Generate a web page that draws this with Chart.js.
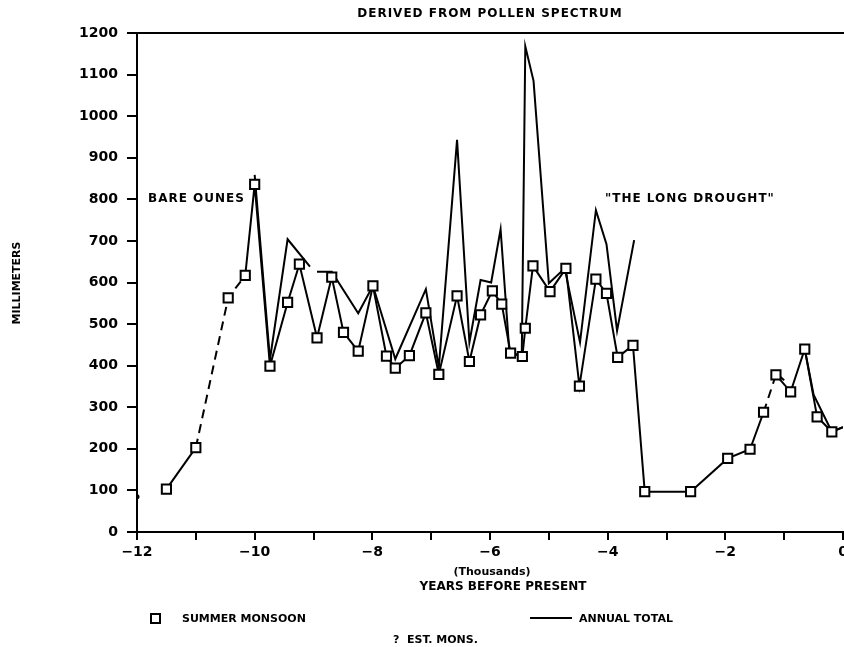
<!DOCTYPE html>
<html>
<head>
<meta charset="utf-8">
<title>Derived from pollen spectrum</title>
<script src="https://cdn.jsdelivr.net/npm/chart.js@4/dist/chart.umd.min.js"></script>
<style>
  html, body { margin: 0; padding: 0; background: #fff; overflow: hidden; }
  #wrap { width: 844px; height: 647px; position: relative; }
  canvas { display: block; }
</style>
</head>
<body>
<div id="wrap"><canvas id="chart"></canvas></div>
<script>
// Years are thousands of years before present, values in millimeters

// Summer monsoon reconstruction
const monsoonYears = [-11.5, -11.0, -10.45, -10.16, -10.0, -9.74, -9.44, -9.24, -8.94, -8.69,
  -8.49, -8.24, -7.99, -7.76, -7.61, -7.37, -7.09, -6.87, -6.56, -6.35,
  -6.16, -5.96, -5.80, -5.65, -5.45, -5.40, -5.27, -4.98, -4.71, -4.48,
  -4.20, -4.02, -3.83, -3.57, -3.37, -2.59, -1.96, -1.58, -1.35, -1.14,
  -0.89, -0.65, -0.44, -0.19, 0];
const monsoonValues = [103, 203, 563, 617, 836, 399, 552, 644, 467, 613,
  480, 435, 592, 423, 394, 424, 527, 379, 568, 410,
  522, 580, 548, 430, 422, 490, 640, 578, 634, 351,
  608, 574, 420, 449, 97, 97, 177, 199, 288, 378,
  337, 440, 277, 241, 252];
// segments ending at these points are estimated (dashed)
const monsoonEstimated = [false, false, true, true, false, false, false, false, false, false,
  false, false, false, false, false, false, false, false, false, false,
  false, false, false, false, false, false, false, false, false, false,
  false, false, false, false, false, false, false, false, false, true,
  false, false, false, false, false];

// Annual total (null marks a break in the record)
const annualYears = [-10.0, -9.74, -9.44, -9.06, -9.0, -8.94, -8.69, -8.24, -7.99, -7.61,
  -7.09, -6.87, -6.56, -6.35, -6.16, -5.98, -5.82, -5.67, -5.46, -5.40,
  -5.26, -5.00, -4.73, -4.47, -4.20, -4.02, -3.84, -3.55, -2.0, -1.16,
  -1.0, -0.9, -0.65, -0.50, -0.19, 0];
const annualValues = [859, 415, 704, 638, null, 626, 626, 526, 592, 416,
  584, 396, 943, 456, 606, 600, 728, 432, 424, 1168,
  1085, 598, 634, 456, 774, 692, 484, 702, null, 385,
  365, null, 440, 330, 241, 252];

// lone reading at the start of the record
const earlyYears = [-12];
const earlyValues = [85];

const xRange = [-12, 0];
const yRange = [0, 1200];
const yStep = 100;

const FONT = 'DejaVu Sans';

function toPoints(xs, ys) {
  return xs.map((x, i) => ({ x: x, y: ys[i] }));
}

// Titles, notes and the legend drawn straight on the canvas
const textPlugin = {
  id: 'textPlugin',
  afterDraw(chart) {
    const ctx = chart.ctx;
    const area = chart.chartArea;
    ctx.save();
    ctx.fillStyle = '#000';
    ctx.strokeStyle = '#000';

    // top frame line
    ctx.lineWidth = 2;
    ctx.beginPath();
    ctx.moveTo(area.left, area.top);
    ctx.lineTo(area.right + 1, area.top);
    ctx.stroke();

    ctx.textBaseline = 'middle';
    ctx.textAlign = 'center';
    ctx.font = 'bold 12px ' + FONT;
    ctx.letterSpacing = '1px';
    ctx.fillText('DERIVED FROM POLLEN SPECTRUM', 490, 14);

    // axis titles
    ctx.letterSpacing = '0px';
    ctx.font = 'bold 11px ' + FONT;
    ctx.fillText('(Thousands)', 492, 572);
    ctx.font = 'bold 12px ' + FONT;
    ctx.fillText('YEARS BEFORE PRESENT', 503, 587);

    ctx.save();
    ctx.translate(17, 283);
    ctx.rotate(-Math.PI / 2);
    ctx.font = 'bold 11px ' + FONT;
    ctx.fillText('MILLIMETERS', 0, 0);
    ctx.restore();

    // notes inside the plot
    ctx.textAlign = 'left';
    ctx.font = 'bold 12px ' + FONT;
    ctx.letterSpacing = '1px';
    ctx.fillText('BARE OUNES', 148, 199);
    ctx.fillText('"THE LONG DROUGHT"', 605, 199);

    // legend
    ctx.letterSpacing = '0px';
    ctx.font = 'bold 11px ' + FONT;
    ctx.lineWidth = 2;
    ctx.fillStyle = '#fff';
    ctx.fillRect(151, 614, 9, 9);
    ctx.strokeRect(151, 614, 9, 9);
    ctx.fillStyle = '#000';
    ctx.fillText('SUMMER MONSOON', 182, 619);

    ctx.beginPath();
    ctx.moveTo(530, 618);
    ctx.lineTo(572, 618);
    ctx.stroke();
    ctx.fillText('ANNUAL TOTAL', 579, 619);

    ctx.fillText('?  EST. MONS.', 393, 640);
    ctx.restore();
  }
};

const lastMonsoon = monsoonYears.length - 1;

const ctx = document.getElementById('chart').getContext('2d');
new Chart(ctx, {
  type: 'line',
  data: {
    datasets: [
      {
        label: 'SUMMER MONSOON',
        data: toPoints(monsoonYears, monsoonValues),
        borderColor: '#000',
        borderWidth: 2,
        pointStyle: 'rect',
        // the record runs on past the right edge, so no marker there
        pointRadius: c => (c.dataIndex === lastMonsoon ? 0 : 6.5),
        pointBorderWidth: 2,
        pointBackgroundColor: '#fff',
        pointBorderColor: '#000',
        segment: {
          borderDash: c => monsoonEstimated[c.p1DataIndex] ? [9, 6] : undefined
        },
        order: 1
      },
      {
        label: 'ANNUAL TOTAL',
        data: toPoints(annualYears, annualValues),
        borderColor: '#000',
        borderWidth: 2,
        pointRadius: 0,
        spanGaps: false,
        order: 2
      },
      {
        label: 'early',
        data: toPoints(earlyYears, earlyValues),
        showLine: false,
        pointStyle: 'circle',
        pointRadius: 2.5,
        pointBorderWidth: 0,
        pointBackgroundColor: '#000',
        order: 0
      }
    ]
  },
  options: {
    responsive: true,
    maintainAspectRatio: false,
    animation: false,
    layout: { autoPadding: false, padding: { left: 0, top: 33, right: 1, bottom: 0 } },
    plugins: {
      legend: { display: false },
      tooltip: { enabled: false }
    },
    scales: {
      x: {
        type: 'linear',
        min: xRange[0],
        max: xRange[1],
        grid: { drawOnChartArea: false, tickLength: 8, color: '#000', lineWidth: 2 },
        border: { color: '#000', width: 2 },
        ticks: {
          stepSize: 1,
          color: '#000',
          padding: 4,
          maxRotation: 0,
          autoSkip: false,
          font: { family: FONT, size: 14, weight: 'bold' },
          callback: v => (v % 2 === 0 ? String(v).replace('-', '\u2212') : '')
        },
        afterFit(scale) {
          scale.height = 115;
          scale.paddingLeft = 0;
          scale.paddingRight = 0;
        }
      },
      y: {
        min: yRange[0],
        max: yRange[1],
        grid: { drawOnChartArea: false, tickLength: 10, color: '#000', lineWidth: 2 },
        border: { color: '#000', width: 2 },
        ticks: {
          stepSize: yStep,
          color: '#000',
          padding: 9,
          font: { family: FONT, size: 14, weight: 'bold' },
          callback: v => String(v)
        },
        afterFit(scale) {
          scale.width = 137;
        }
      }
    }
  },
  plugins: [textPlugin]
});
</script>
</body>
</html>
